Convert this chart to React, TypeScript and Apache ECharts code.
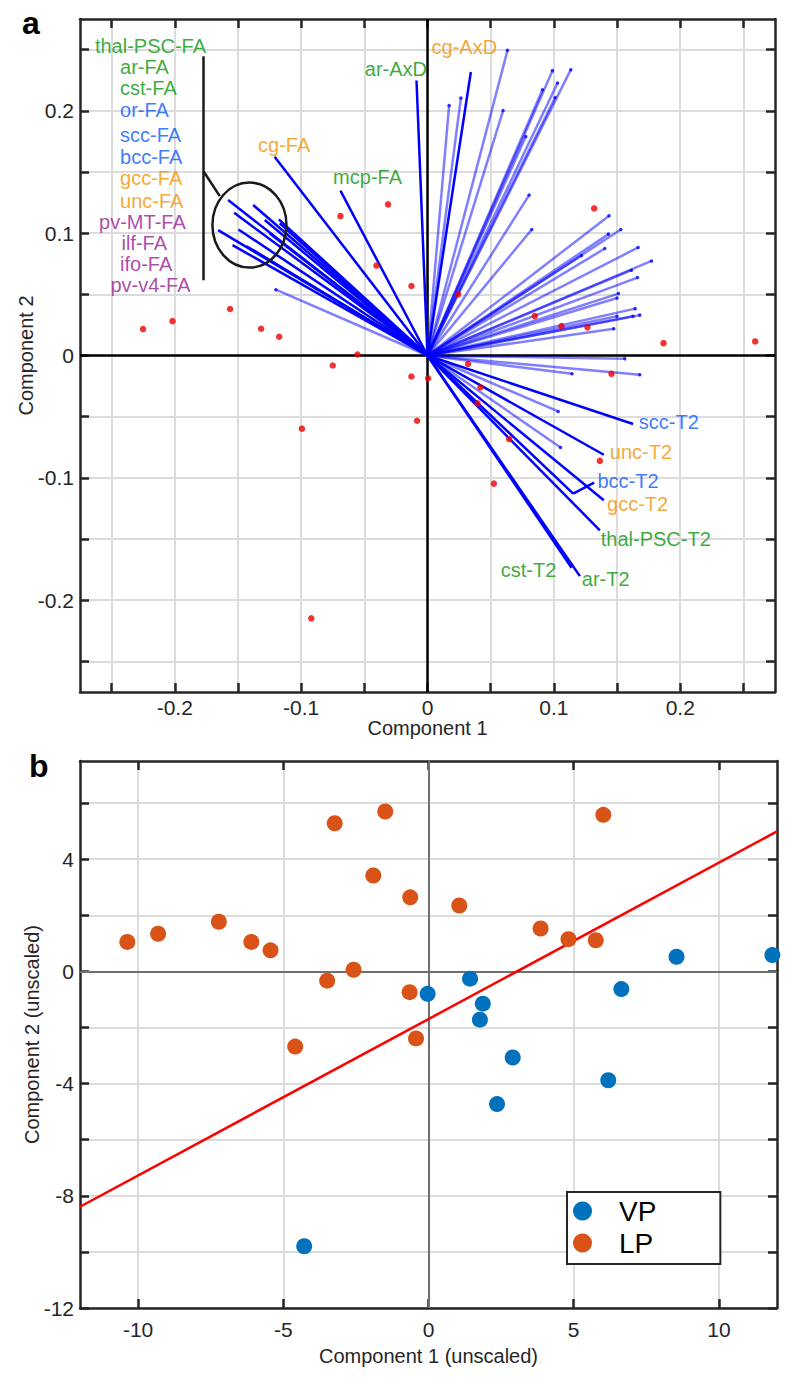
import React, { useEffect, useRef } from 'react';
import * as echarts from 'echarts';

// ---------------- Panel a : loadings (vectors) and scores ----------------
const ticksA = [-0.25, -0.2, -0.15, -0.1, -0.05, 0, 0.05, 0.1, 0.15, 0.2, 0.25];
const tickLabelsA = [-0.2, -0.1, 0, 0.1, 0.2];

// labelled (opaque) loading vectors
const boldNames = [
  'thal-PSC-FA', 'ar-FA', 'cst-FA', 'or-FA', 'scc-FA', 'bcc-FA', 'gcc-FA', 'unc-FA',
  'pv-MT-FA', 'ilf-FA', 'ifo-FA', 'pv-v4-FA', 'cg-FA', 'mcp-FA', 'ar-AxD', 'cg-AxD',
  'scc-T2', 'unc-T2', 'bcc-T2', 'gcc-T2', 'thal-PSC-T2', 'cst-T2', 'ar-T2',
];
const boldX = [
  -0.1578, -0.138, -0.153, -0.1288, -0.1177, -0.1657, -0.1496, -0.1543,
  -0.1432, -0.1248, -0.1169, -0.138, -0.121, -0.0689, -0.0087, 0.0343,
  0.1627, 0.1395, 0.1153, 0.1395, 0.1364, 0.114, 0.1206,
];
const boldY = [
  0.127, 0.123, 0.1166, 0.1107, 0.1112, 0.1025, 0.103, 0.0902,
  0.0893, 0.0997, 0.108, 0.086, 0.1625, 0.1347, 0.2248, 0.2317,
  -0.056, -0.0811, -0.1129, -0.1183, -0.1429, -0.1735, -0.1803,
];

// unlabelled (translucent) loading vectors
const lightX = [
  0.0171, 0.0264, 0.0633, 0.0598, 0.0989, 0.1134, 0.1029, 0.091, 0.101, 0.0778,
  0.0804, 0.0825, 0.1437, 0.1432, 0.153, 0.1403, 0.1219, 0.1667, 0.1773, 0.1614,
  0.1662, 0.1511, 0.15, 0.1643, 0.168, 0.1627, 0.15, 0.1474,
  0.1561, 0.168, 0.1144, 0.1034, 0.1053, -0.12,
];
const lightY = [
  0.2043, 0.2104, 0.2494, 0.2002, 0.2328, 0.2336, 0.2227, 0.2172, 0.2109, 0.1789,
  0.1311, 0.103, 0.1142, 0.0992, 0.103, 0.0874, 0.0817, 0.0883, 0.0773, 0.0697,
  0.0637, 0.0506, 0.047, 0.0383, 0.033, 0.032, 0.032, 0.0219,
  -0.0027, -0.0158, -0.015, -0.0457, -0.0752, 0.0538,
];

// subject scores
const scoreX = [
  -0.0312, -0.0689, -0.0404, -0.0127, -0.1562, -0.2018, -0.2251, -0.1317, -0.1174, -0.0554,
  0.1319, 0.0242, 0.0849, 0.106, 0.1266, 0.1868, 0.2593, 0.0321, -0.0127, 0.0005,
  0.0419, 0.0396, -0.0082, 0.0646, 0.1364, 0.0525, 0.1456, -0.075, -0.0994, -0.092,
];
const scoreY = [
  0.1235, 0.1139, 0.0735, 0.0568, 0.038, 0.0281, 0.0216, 0.0219, 0.0153, 0.0008,
  0.1202, 0.05, 0.0322, 0.024, 0.023, 0.0101, 0.0115, -0.0068, -0.0172, -0.0186,
  -0.026, -0.0391, -0.0533, -0.0683, -0.0861, -0.1047, -0.015, -0.0082, -0.0598, -0.2148,
];

// text annotations (anchor = left end, vertical middle) and their tract group
const annText = [
  'thal-PSC-FA', 'ar-FA', 'cst-FA', 'or-FA', 'scc-FA', 'bcc-FA', 'gcc-FA', 'unc-FA',
  'pv-MT-FA', 'ilf-FA', 'ifo-FA', 'pv-v4-FA', 'cg-FA', 'mcp-FA', 'ar-AxD', 'cg-AxD',
  'scc-T2', 'unc-T2', 'bcc-T2', 'gcc-T2', 'thal-PSC-T2', 'cst-T2', 'ar-T2',
];
const annGroup = [
  'g', 'g', 'g', 'b', 'b', 'b', 'o', 'o',
  'p', 'p', 'p', 'p', 'o', 'g', 'g', 'o',
  'b', 'o', 'b', 'o', 'g', 'g', 'g',
];
const annX = [
  -0.2632, -0.2433, -0.2433, -0.2433, -0.2433, -0.2433, -0.2433, -0.2433,
  -0.2599, -0.2422, -0.2433, -0.2509, -0.1341, -0.0747, -0.0496, 0.0032,
  0.1672, 0.1443, 0.1345, 0.1421, 0.1371, 0.058, 0.1221,
];
const annY = [
  0.2533, 0.2361, 0.2186, 0.2008, 0.1798, 0.1625, 0.1453, 0.1265,
  0.1093, 0.092, 0.0748, 0.0574, 0.1721, 0.1457, 0.2342, 0.2522,
  -0.0547, -0.0787, -0.1025, -0.1216, -0.1502, -0.1757, -0.183,
];

// bracket grouping the FA labels, and the circle round the FA vectors
const bracketFA = [[-0.1776, 0.2445], [-0.1776, 0.0615]];
const bracketFALink = [[-0.177, 0.1502], [-0.1644, 0.1303]];
const circleFA = { cx: -0.1409, cy: 0.1066, rx: 0.0293, ry: 0.0347 };
const bracketT2 = [[0.1153, -0.1129], [0.1319, -0.1039]];

// ---------------- Panel b : unscaled scores ----------------
const ticksBX = [-10, -5, 0, 5, 10];
const ticksBY = [-12, -10, -8, -6, -4, -2, 0, 2, 4, 6];
const tickLabelsBY = [-12, -8, -4, 0, 4];

const vpX = [-0.03, 1.43, 1.87, 1.77, 2.9, 2.36, 6.19, 6.64, 8.54, 11.84, -4.28];
const vpY = [-0.8, -0.26, -1.15, -1.72, -3.07, -4.73, -3.88, -0.63, 0.52, 0.58, -9.8];
const lpX = [
  -10.37, -9.31, -7.22, -6.1, -5.44, -3.23, -1.49, -1.9, -0.63, 1.06,
  6.02, 3.86, 4.82, 5.76, -2.58, -3.49, -0.65, -4.59, -0.43,
];
const lpY = [
  1.05, 1.34, 1.77, 1.05, 0.75, 5.28, 5.7, 3.42, 2.64, 2.35,
  5.58, 1.53, 1.15, 1.11, 0.06, -0.33, -0.74, -2.68, -2.39,
];
const fitX = [-12, 12];
const fitY = [-8.39, 4.99];

// ---------------- styles ----------------
const FONT = 'Arial, "Liberation Sans", Helvetica, sans-serif';
const INK = '#262626';
const GRIDC = '#dcdcdc';
const groupColor: Record<string, string> = {
  g: '#079607',
  b: '#0a58ff',
  o: '#f39200',
  p: '#981a94',
};

const zip = (xs: number[], ys: number[]) => xs.map((x, i) => [x, ys[i]]);

function mainX(g: number, min: number, max: number, ticks: number[], labels: number[], name: string, nameGap: number, margin: number) {
  return {
    gridIndex: g, type: 'value', position: 'bottom', min, max,
    name, nameLocation: 'middle', nameGap, nameMoveOverlap: false,
    nameTextStyle: { fontSize: 20, color: INK, fontFamily: FONT },
    axisLine: { show: true, onZero: false, lineStyle: { color: INK, width: 2.5 } },
    axisTick: { show: true, inside: true, length: 9, customValues: ticks, lineStyle: { color: INK, width: 2.5 } },
    axisLabel: { show: true, customValues: labels, fontSize: 21, color: INK, fontFamily: FONT, margin, formatter: (v: number) => String(v) },
    splitLine: { show: true, lineStyle: { color: GRIDC, width: 2 } },
  };
}
function mainY(g: number, min: number, max: number, ticks: number[], labels: number[], name: string, nameGap: number, margin: number) {
  return {
    gridIndex: g, type: 'value', position: 'left', min, max,
    name, nameLocation: 'middle', nameGap, nameMoveOverlap: false,
    nameTextStyle: { fontSize: 20, color: INK, fontFamily: FONT },
    axisLine: { show: true, onZero: false, lineStyle: { color: INK, width: 2.5 } },
    axisTick: { show: true, inside: true, length: 9, customValues: ticks, lineStyle: { color: INK, width: 2.5 } },
    axisLabel: { show: true, customValues: labels, fontSize: 21, color: INK, fontFamily: FONT, margin, formatter: (v: number) => String(v) },
    splitLine: { show: true, lineStyle: { color: GRIDC, width: 2 } },
  };
}
function boxAxis(g: number, position: string, min: number, max: number, ticks: number[]) {
  return {
    gridIndex: g, type: 'value', position, min, max,
    axisLine: { show: true, onZero: false, lineStyle: { color: INK, width: 2.5 } },
    axisTick: { show: true, inside: true, length: 9, customValues: ticks, lineStyle: { color: INK, width: 2.5 } },
    axisLabel: { show: false },
    splitLine: { show: false },
  };
}

export default function App() {
  const ref = useRef<HTMLDivElement>(null);
  useEffect(() => {
    if (!ref.current) return;
    const chart = echarts.init(ref.current, undefined, { renderer: 'svg' });
    const option: any = {
      animation: false,
      backgroundColor: '#ffffff',
      grid: [
        { left: 80, top: 19, width: 695, height: 673 },
        { left: 80, top: 761, width: 697, height: 547 },
      ],
      xAxis: [
        mainX(0, -0.275, 0.275, ticksA, tickLabelsA, 'Component 1', 26, 5),
        boxAxis(0, 'top', -0.275, 0.275, ticksA),
        mainX(1, -12, 12, ticksBX, ticksBX, 'Component 1 (unscaled)', 38, 11),
        boxAxis(1, 'top', -12, 12, ticksBX),
      ],
      yAxis: [
        mainY(0, -0.275, 0.275, ticksA, tickLabelsA, 'Component 2', 44, 6),
        boxAxis(0, 'right', -0.275, 0.275, ticksA),
        mainY(1, -12, 7.5, ticksBY, tickLabelsBY, 'Component 2 (unscaled)', 38, 6),
        boxAxis(1, 'right', -12, 7.5, ticksBY),
      ],
      legend: {
        data: ['VP', 'LP'],
        orient: 'vertical',
        left: 567, top: 1192,
        padding: [5, 64, 7, 6],
        itemWidth: 63, itemHeight: 19, itemGap: 4,
        icon: 'circle',
        textStyle: { fontSize: 28, color: '#000', fontFamily: FONT },
        borderColor: INK, borderWidth: 2, backgroundColor: '#fff',
      },
      series: [
        {
          type: 'lines', coordinateSystem: 'cartesian2d', xAxisIndex: 0, yAxisIndex: 0, silent: true, z: 2,
          data: [{ coords: [[-0.275, 0], [0.275, 0]] }, { coords: [[0, -0.275], [0, 0.275]] }],
          lineStyle: { color: '#000', width: 2.5, opacity: 1 },
        },
        {
          type: 'lines', coordinateSystem: 'cartesian2d', xAxisIndex: 0, yAxisIndex: 0, silent: true, z: 3,
          data: lightX.map((x, i) => ({ coords: [[0, 0], [x, lightY[i]]] })),
          lineStyle: { color: '#0000ff', width: 2.5, opacity: 0.5 },
        },
        {
          type: 'scatter', xAxisIndex: 0, yAxisIndex: 0, silent: true, z: 4,
          data: zip(lightX, lightY), symbolSize: 3.5,
          itemStyle: { color: '#0000ff' },
        },
        {
          type: 'lines', coordinateSystem: 'cartesian2d', xAxisIndex: 0, yAxisIndex: 0, silent: true, z: 5,
          data: boldX.map((x, i) => ({ name: boldNames[i], coords: [[0, 0], [x, boldY[i]]] })),
          lineStyle: { color: '#0000ff', width: 2.5, opacity: 1 },
        },
        {
          type: 'lines', coordinateSystem: 'cartesian2d', xAxisIndex: 0, yAxisIndex: 0, silent: true, z: 6,
          data: [{ coords: bracketFA }, { coords: bracketFALink }],
          lineStyle: { color: '#1a1a1a', width: 2.5, opacity: 1 },
        },
        {
          type: 'lines', coordinateSystem: 'cartesian2d', xAxisIndex: 0, yAxisIndex: 0, silent: true, z: 6,
          data: [{ coords: bracketT2 }],
          lineStyle: { color: '#0000ff', width: 2.5, opacity: 1 },
        },
        {
          type: 'scatter', xAxisIndex: 0, yAxisIndex: 0, silent: true, z: 7,
          data: zip(scoreX, scoreY), symbolSize: 6.5,
          itemStyle: { color: '#ee0000' },
        },
        {
          type: 'scatter', xAxisIndex: 0, yAxisIndex: 0, silent: true, z: 8,
          symbolSize: 0,
          data: annX.map((x, i) => ({
            value: [x, annY[i]], name: annText[i],
            label: { color: groupColor[annGroup[i]] },
          })),
          label: {
            show: true, position: 'right', distance: 0, formatter: '{b}',
            fontSize: 20, lineHeight: 18, fontFamily: FONT,
          },
        },
        // panel b
        {
          type: 'lines', coordinateSystem: 'cartesian2d', xAxisIndex: 2, yAxisIndex: 2, silent: true, z: 2,
          data: [{ coords: [[-12, 0], [12, 0]] }, { coords: [[0, -12], [0, 7.5]] }],
          lineStyle: { color: '#707070', width: 2, opacity: 1 },
        },
        {
          type: 'line', xAxisIndex: 2, yAxisIndex: 2, silent: true, z: 3,
          data: zip(fitX, fitY), symbol: 'none',
          lineStyle: { color: '#ff0000', width: 2.5 },
        },
        {
          name: 'VP', type: 'scatter', xAxisIndex: 2, yAxisIndex: 2, z: 4,
          data: zip(vpX, vpY), symbolSize: 16,
          itemStyle: { color: '#0072bd', opacity: 1 },
        },
        {
          name: 'LP', type: 'scatter', xAxisIndex: 2, yAxisIndex: 2, z: 4,
          data: zip(lpX, lpY), symbolSize: 16,
          itemStyle: { color: '#d95319', opacity: 1 },
        },
      ],
    };
    chart.setOption(option);

    const c = chart.convertToPixel({ gridIndex: 0 }, [circleFA.cx, circleFA.cy]) as number[];
    const e = chart.convertToPixel({ gridIndex: 0 }, [circleFA.cx + circleFA.rx, circleFA.cy + circleFA.ry]) as number[];
    chart.setOption({
      graphic: [
        {
          type: 'ellipse', silent: true, z: 20,
          shape: { cx: c[0], cy: c[1], rx: Math.abs(e[0] - c[0]), ry: Math.abs(e[1] - c[1]) },
          style: { fill: 'none', stroke: '#1a1a1a', lineWidth: 2.5 },
        },
        {
          type: 'text', left: 22, top: 7, z: 20,
          style: { text: 'a', font: `bold 32px ${FONT}`, fill: '#000' },
        },
        {
          type: 'text', left: 29, top: 750, z: 20,
          style: { text: 'b', font: `bold 32px ${FONT}`, fill: '#000' },
        },
      ],
    });
    return () => chart.dispose();
  }, []);
  return <div ref={ref} style={{ position: 'absolute', left: 0, top: 0, width: 800, height: 1386 }} />;
}
